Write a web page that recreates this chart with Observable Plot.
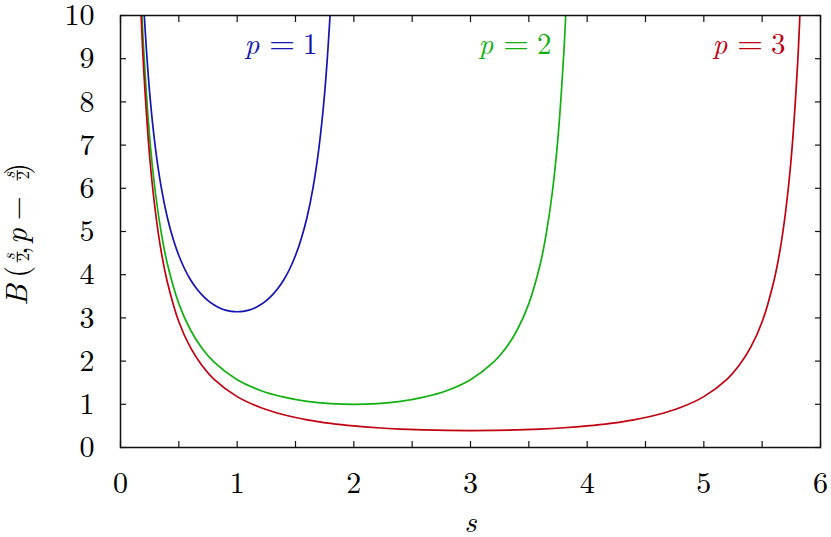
<!DOCTYPE html>
<html>
<head>
<meta charset="utf-8">
<script src="https://cdn.jsdelivr.net/npm/d3@7"></script>
<script src="https://cdn.jsdelivr.net/npm/@observablehq/plot@0.6"></script>
<style>
  html, body { margin: 0; padding: 0; background: #fff; }
  #chart svg text, #chart svg tspan { font-family: "Latin Modern Roman", "Liberation Serif", serif !important; }
</style>
</head>
<body>
<div id="chart"></div>
<script>
// ---- data ----
const seriesNames = ["p = 1", "p = 2", "p = 3"];
const seriesColors = ["#1414b0", "#10b010", "#c00010"];

const s1 = [0.15, 0.18, 0.2, 0.25, 0.3, 0.35, 0.4, 0.45, 0.5, 0.55, 0.6, 0.65, 0.7, 0.75, 0.8, 0.85, 0.9, 0.95, 1.0, 1.05, 1.1, 1.15, 1.2, 1.25, 1.3, 1.35, 1.4, 1.45, 1.5, 1.55, 1.6, 1.65, 1.7, 1.75, 1.8, 1.82, 1.85];
const y1 = [13.46, 11.26, 10.17, 8.21, 6.92, 6.01, 5.34, 4.837, 4.443, 4.132, 3.883, 3.685, 3.526, 3.400, 3.303, 3.231, 3.181, 3.151, 3.142, 3.151, 3.181, 3.231, 3.303, 3.400, 3.526, 3.685, 3.883, 4.132, 4.443, 4.837, 5.34, 6.01, 6.92, 8.21, 10.17, 11.26, 13.46];

const s2 = [0.15, 0.18, 0.2, 0.25, 0.3, 0.35, 0.4, 0.5, 0.6, 0.7, 0.8, 1.0, 1.2, 1.4, 1.6, 1.8, 2.0, 2.2, 2.4, 2.6, 2.8, 3.0, 3.2, 3.3, 3.4, 3.5, 3.6, 3.65, 3.7, 3.75, 3.8, 3.82, 3.85];
const y2 = [12.45, 10.25, 9.15, 7.18, 5.88, 4.96, 4.27, 3.33, 2.72, 2.29, 1.98, 1.57, 1.32, 1.165, 1.068, 1.017, 1.0, 1.017, 1.068, 1.165, 1.32, 1.57, 1.98, 2.29, 2.72, 3.33, 4.27, 4.96, 5.88, 7.18, 9.15, 10.25, 12.45];

const s3 = [0.15, 0.18, 0.2, 0.25, 0.3, 0.35, 0.4, 0.5, 0.6, 0.7, 0.8, 1.0, 1.2, 1.4, 1.6, 1.8, 2.0, 2.2, 2.4, 2.6, 2.8, 3.0, 3.2, 3.4, 3.6, 3.8, 4.0, 4.2, 4.4, 4.6, 4.8, 5.0, 5.2, 5.3, 5.4, 5.5, 5.6, 5.65, 5.7, 5.75, 5.8, 5.82, 5.85];
const y3 = [11.98, 9.79, 8.70, 6.73, 5.44, 4.52, 3.85, 2.91, 2.31, 1.893, 1.585, 1.178, 0.925, 0.757, 0.641, 0.559, 0.5, 0.4575, 0.4276, 0.4077, 0.3964, 0.3927, 0.3964, 0.4077, 0.4276, 0.4575, 0.5, 0.559, 0.641, 0.757, 0.925, 1.178, 1.585, 1.893, 2.31, 2.91, 3.85, 4.52, 5.44, 6.73, 8.70, 9.79, 11.98];

// curve labels: anchor (s, value) of the right end of each label's baseline
const labelS = [1.689, 3.694, 5.70];
const labelY = [9.10, 9.10, 9.10];

const xTicks = [0, 0.5, 1, 1.5, 2, 2.5, 3, 3.5, 4, 4.5, 5, 5.5, 6];
const xTickLabels = [0, 1, 2, 3, 4, 5, 6];
const yTicks = [0, 1, 2, 3, 4, 5, 6, 7, 8, 9, 10];
const xLabel = "s";

// ---- build table ----
const sArrays = [s1, s2, s3];
const yArrays = [y1, y2, y3];
const rows = [];
seriesNames.forEach((name, i) => {
  sArrays[i].forEach((s, j) => rows.push({series: name, s, y: yArrays[i][j]}));
});
const labels = seriesNames.map((name, i) => ({series: name, s: labelS[i], y: labelY[i]}));

const FONT = "Latin Modern Roman";

const chart = Plot.plot({
  width: 831,
  height: 537,
  marginTop: 15,
  marginLeft: 120,
  marginRight: 11,
  marginBottom: 90,
  style: {fontFamily: FONT, fontSize: "31px", background: "#fff", color: "#000"},
  x: {domain: [0, 6]},
  y: {domain: [0, 10]},
  color: {domain: seriesNames, range: seriesColors},
  marks: [
    // inward ticks, mirrored
    Plot.axisX(xTicks, {anchor: "bottom", tickSize: -6, fill: "none", label: null, stroke: "#111", strokeWidth: 1.2}),
    Plot.axisX(xTicks, {anchor: "top", tickSize: -6, fill: "none", label: null, stroke: "#111", strokeWidth: 1.2}),
    Plot.axisY(yTicks, {anchor: "left", tickSize: -6, fill: "none", label: null, stroke: "#111", strokeWidth: 1.2}),
    Plot.axisY(yTicks, {anchor: "right", tickSize: -6, fill: "none", label: null, stroke: "#111", strokeWidth: 1.2}),
    // tick labels
    Plot.axisX(xTickLabels, {anchor: "bottom", tickSize: 0, tickPadding: 24, label: null, fontSize: 30, tickFormat: d3.format("d")}),
    Plot.axisY(yTicks, {anchor: "left", tickSize: 0, tickPadding: 26, label: null, fontSize: 30, tickFormat: d3.format("d")}),
    // curves
    Plot.line(rows, {x: "s", y: "y", z: "series", stroke: "series", strokeWidth: 1.7, curve: "catmull-rom", clip: true}),
    // curve labels
    Plot.text(labels, {x: "s", y: "y", text: "series", fill: "series", textAnchor: "end", lineAnchor: "bottom", fontSize: 29}),
    // x axis title
    Plot.text([xLabel], {frameAnchor: "bottom", text: d => d, dy: 84, lineAnchor: "bottom", fontSize: 30, fontStyle: "italic"}),
    Plot.frame({stroke: "#111", strokeWidth: 1.5})
  ]
});

document.getElementById("chart").appendChild(chart);

// curve labels: "p" italic, "= n" upright, TeX-like spacing
d3.select(chart).selectAll("g[aria-label='text'] text").each(function() {
  const t = this.textContent;
  const m = /^p = (\d)$/.exec(t);
  if (!m) return;
  const sel = d3.select(this);
  sel.text(null);
  sel.append("tspan").attr("font-style", "italic").text("p");
  sel.append("tspan").attr("dx", 10).attr("font-size", 33).text("=");
  sel.append("tspan").attr("dx", 8).text(m[1]);
});

// ---- y axis title: B(s/2, p − s/2) with stacked fractions ----
(function() {
  const svg = d3.select(chart);
  const g = svg.append("g").attr("fill", "#000");
  const MAIN = 31, SMALL = 17;
  let x = 0;
  function txt(str, {size = MAIN, italic = false, y = 0, gap = 0} = {}) {
    x += gap;
    const t = g.append("text").attr("x", x).attr("y", y).attr("font-size", size)
      .attr("font-style", italic ? "italic" : "normal").text(str);
    x += t.node().getComputedTextLength();
  }
  function frac(num, den) {
    x += 0.5;
    const n = g.append("text").attr("y", -12.5).attr("font-size", SMALL).attr("font-style", "italic").attr("text-anchor", "middle").text(num);
    const d = g.append("text").attr("y", 2).attr("font-size", SMALL).attr("text-anchor", "middle").text(den);
    const w = Math.max(n.node().getComputedTextLength(), d.node().getComputedTextLength()) + 2;
    n.attr("x", x + w / 2);
    d.attr("x", x + w / 2);
    g.append("line").attr("x1", x).attr("x2", x + w).attr("y1", -9.7).attr("y2", -9.7)
      .attr("stroke", "#000").attr("stroke-width", 1);
    x += w + 1;
  }
  txt("B", {italic: true});
  txt("(", {gap: 1.5});
  x -= 3;
  frac("s", "2");
  txt(",");
  txt("p", {italic: true, gap: 6});
  txt("\u2212", {gap: 12});
  x += 3;
  frac("s", "2");
  txt(")");
  const W = x;
  g.attr("transform", `translate(27,${226 + W / 2}) rotate(-90)`);
})();
</script>
</body>
</html>
